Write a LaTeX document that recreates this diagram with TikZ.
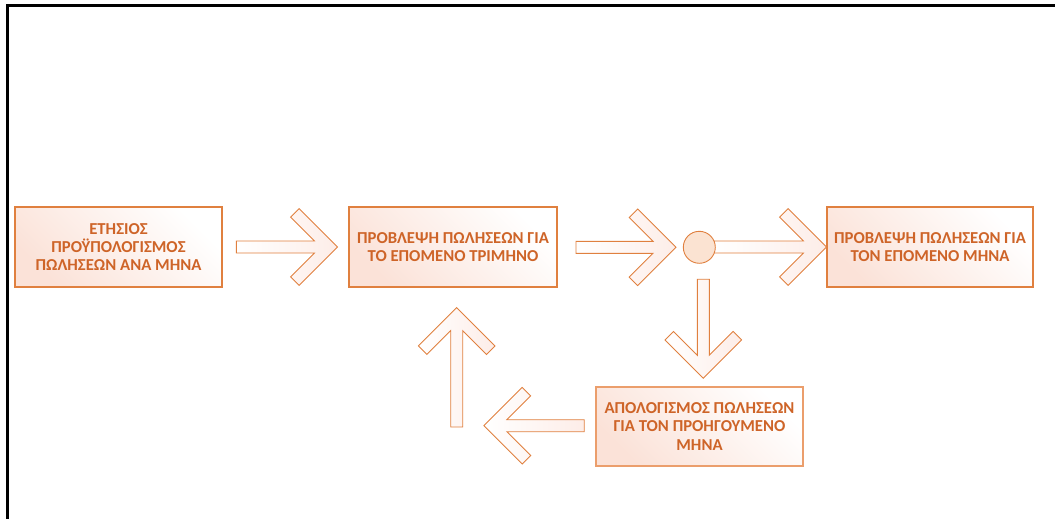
\documentclass[tikz,border=0pt]{standalone}
\usepackage{fontspec}
\usetikzlibrary{calc}
\setmainfont{Carlito}
\definecolor{edge}{HTML}{E0803F}
\definecolor{edgelight}{HTML}{EB9E6C}
\definecolor{txt}{HTML}{CE6428}
\definecolor{boxpink}{HTML}{FBE2D8}
\definecolor{arrowpink}{HTML}{FDEDE8}
\definecolor{dotfill}{HTML}{FBE3D2}
\tikzset{
  box/.style={draw=edge, line width=1.2pt, minimum width=207, minimum height=80,
    top color=boxpink, middle color=white, bottom color=white, shading angle=135,
    text=txt, align=center, inner sep=0pt,
    font=\fontsize{16.7}{18.3}\selectfont\bfseries},
  arrowline/.style={draw=edge, line width=0.9pt, line join=miter,
    left color=white, right color=arrowpink},
  % block arrow: tip at the origin, pointing along +x, shaft #1 long
  pics/blockarrow/.style={code={
    \path[arrowline] (0,0) -- (-38.3,-38.3) -- (-46.8,-29.8) -- (-23,-6)
      -- (-#1,-6) -- (-#1,6) -- (-23,6) -- (-46.8,29.8) -- (-38.3,38.3) -- cycle;
  }}
}
\begin{document}
\begin{tikzpicture}[x=1pt,y=-1pt]
  \useasboundingbox (0,0) rectangle (1055,519);
  % frame edges
  \draw[black, line width=2.6pt] (7.3,519) -- (7.3,5.3) -- (1055,5.3);

  % nodes
  \node[box] (b1) at (118.5,247) {\fontsize{16.7}{20.7}\selectfont ΕΤΗΣΙΟΣ\\ΠΡΟΫΠΟΛΟΓΙΣΜΟΣ\\ΠΩΛΗΣΕΩΝ ΑΝΑ ΜΗΝΑ};
  \node[box, minimum width=208] (b2) at (453,247) {ΠΡΟΒΛΕΨΗ ΠΩΛΗΣΕΩΝ ΓΙΑ\\ΤΟ ΕΠΟΜΕΝΟ ΤΡΙΜΗΝΟ};
  \node[box, minimum width=206] (b3) at (930,247) {ΠΡΟΒΛΕΨΗ ΠΩΛΗΣΕΩΝ ΓΙΑ\\ΤΟΝ ΕΠΟΜΕΝΟ ΜΗΝΑ};
  \node[box, draw=edgelight, minimum height=79] (b4) at (699.5,426.5) {\fontsize{16.7}{20}\selectfont ΑΠΟΛΟΓΙΣΜΟΣ ΠΩΛΗΣΕΩΝ\\ΓΙΑ ΤΟΝ ΠΡΟΗΓΟΥΜΕΝΟ\\ΜΗΝΑ};
  \coordinate (c) at (699.3,247.3);

  % connectors
  \pic at ($(b2.west)+(-11,0)$) {blockarrow=101};
  \pic at ($(c)+(-23.3,0)$) {blockarrow=100};
  \pic at (b3.west) {blockarrow=112};
  \pic[rotate=-90] at ($(b4.north)+(3.8,-8.2)$) {blockarrow=99};
  \pic[rotate=90] at ($(b2.south)+(3.7,20)$) {blockarrow=119.4};
  \pic[rotate=180] at ($(b4.west)+(-111.5,-0.8)$) {blockarrow=100.3};

  % junction
  \node[circle, draw=edge, line width=0.9pt, fill=dotfill, minimum size=32, inner sep=0pt] (j) at (c) {};
\end{tikzpicture}
\end{document}
